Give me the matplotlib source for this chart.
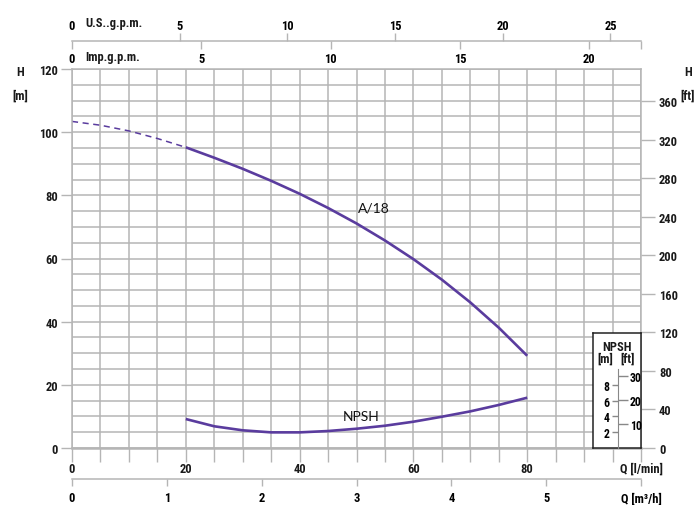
import matplotlib
matplotlib.use("Agg")
import matplotlib.pyplot as plt
from matplotlib import font_manager

# data
q_dash = [0, 5, 10, 15, 20]                       # l/min, dashed part of the H curve
h_dash = [103.4, 102.2, 100.4, 98.0, 95.2]        # m
q_head = [20, 25, 30, 35, 40, 45, 50, 55, 60, 65, 70, 75, 80]
h_head = [95.2, 91.9, 88.4, 84.6, 80.5, 76.0, 71.1, 65.7, 59.8, 53.3, 46.1, 38.1, 29.2]
q_npsh = [20, 25, 30, 35, 40, 45, 50, 55, 60, 65, 70, 75, 80]
npsh_m = [3.67, 2.75, 2.24, 1.98, 1.98, 2.15, 2.44, 2.82, 3.33, 3.96, 4.64, 5.45, 6.37]

x_labels = ["0", "20", "40", "60", "80"]
h_ticks_m = [0, 20, 40, 60, 80, 100, 120]
h_ticks_ft = [0, 40, 80, 120, 160, 200, 240, 280, 320, 360]
us_gpm = [0, 5, 10, 15, 20, 25]
imp_gpm = [0, 5, 10, 15, 20]
m3h = [0, 1, 2, 3, 4, 5]
npsh_ticks_m = [2, 4, 6, 8]
npsh_ticks_ft = [10, 20, 30]

# unit conversions
LPM_PER_USGPM = 3.785
LPM_PER_IMPGPM = 4.546
LPM_PER_M3H = 1000 / 60
M_PER_FT = 0.3048
NPSH_SCALE = 2.5   # 1 m of NPSH drawn as 2.5 m on the H scale

curve_col = "#5a3c9e"
grid_col = "#b5b5b5"
txt_col = "#1a1a1a"

# pick a narrow face for the labels if one is installed
fonts = font_manager.fontManager.ttflist
names = {f.name for f in fonts}
cond = None
for n in ["Roboto Condensed", "Liberation Sans Narrow", "Open Sans Condensed", "DejaVu Sans Condensed"]:
    if n in names:
        cond = n
        break
stretch = "normal"
if cond is None:
    cond = "DejaVu Sans"
    if any(f.name == "DejaVu Sans" and str(f.stretch) == "condensed" for f in fonts):
        stretch = "condensed"
plt.rcParams["font.family"] = [cond, "DejaVu Sans"]
plt.rcParams["font.stretch"] = stretch
plt.rcParams["font.weight"] = "bold"
plt.rcParams["font.size"] = 9
plt.rcParams["text.color"] = txt_col

W, H = 700, 506
fig = plt.figure(figsize=(W / 100, H / 100), dpi=100)


def fx(px):
    return px / W


def fy(py):
    return 1 - py / H


L, R, T, B = 72, 641, 70, 449

# main chart
ax = fig.add_axes([fx(L), fy(B), fx(R - L), (B - T) / H])
ax.set_xlim(0, 100)
ax.set_ylim(0, 120)
ax.set_xticks(range(0, 101, 5))
xl = [""] * 21
for i, s in enumerate(x_labels):
    xl[i * 4] = s
xl[20] = "Q [l/min]"
ax.set_xticklabels(xl)
ax.set_yticks(h_ticks_m)
ax.set_yticks(range(0, 121, 5), minor=True)
ax.tick_params(axis="x", direction="out", length=10, width=1, color=grid_col, pad=0, labelcolor=txt_col)
ax.tick_params(axis="y", which="major", direction="out", length=8, width=1, color=grid_col, pad=2,
               labelcolor=txt_col)
ax.tick_params(axis="y", which="minor", length=0)
ax.grid(True, which="both", color=grid_col, lw=1.1)
for s in ax.spines.values():
    s.set_color(grid_col)
    s.set_linewidth(1.1)
ax.spines["bottom"].set_linewidth(1.8)
ax.set_axisbelow(True)

ax.plot(q_dash, h_dash, color=curve_col, lw=1.1, ls=(0, (4, 3)))
ax.plot(q_head, h_head, color=curve_col, lw=1.9, solid_capstyle="butt")
ax.plot(q_npsh, [v * NPSH_SCALE for v in npsh_m], color=curve_col, lw=1.9, solid_capstyle="butt")
ax.text(50.3, 76.3, "A/18", family=["Lato", "DejaVu Sans"], stretch="normal", weight="normal",
        fontsize=10, va="center", ha="left", color="#111111")
ax.text(47.6, 10.2, "NPSH", family=["Lato", "DejaVu Sans"], stretch="normal", weight="normal",
        fontsize=10, va="center", ha="left", color="#111111")

# right axis in feet
ax_ft = ax.twinx()
ax_ft.set_ylim(0, 120 / M_PER_FT)
ax_ft.set_yticks(h_ticks_ft)
ax_ft.tick_params(axis="y", direction="out", length=10, width=1, color=grid_col, pad=3, labelcolor=txt_col)
for s in ax_ft.spines.values():
    s.set_visible(False)

# top scale: US gpm above, Imp gpm below
ax_top = fig.add_axes([fx(L), fy(42), fx(R - L), 1e-4])
ax_top.set_xlim(0, 100)
ax_top.set_yticks([])
for k in ("left", "right", "top"):
    ax_top.spines[k].set_visible(False)
ax_top.spines["bottom"].set_color(grid_col)
ax_top.spines["bottom"].set_linewidth(1.1)
ax_top.set_xticks([v * LPM_PER_IMPGPM for v in imp_gpm])
ax_top.set_xticklabels([str(v) for v in imp_gpm])
ax_top.set_xticks([100], minor=True)
ax_top.tick_params(axis="x", which="both", direction="out", length=6, width=1, color=grid_col, pad=2)
ax_us = ax_top.twiny()
ax_us.set_xlim(0, 100)
ax_us.set_xticks([v * LPM_PER_USGPM for v in us_gpm])
ax_us.set_xticklabels([str(v) for v in us_gpm])
ax_us.tick_params(axis="x", direction="out", length=6, width=1, color=grid_col, pad=0.5)
ax_us.xaxis.get_major_ticks()[0].tick2line.set_visible(False)
for s in ax_us.spines.values():
    s.set_visible(False)
fig.text(fx(85), fy(23), "U.S..g.p.m.", va="center", ha="left")
fig.text(fx(85), fy(58), "Imp.g.p.m.", va="center", ha="left")

# bottom scale in m3/h
ax_bot = fig.add_axes([fx(L), fy(480), fx(R - L), 1e-4])
ax_bot.set_xlim(0, 100)
ax_bot.set_yticks([])
for k in ("left", "right", "top"):
    ax_bot.spines[k].set_visible(False)
ax_bot.spines["bottom"].set_color(grid_col)
ax_bot.spines["bottom"].set_linewidth(1.1)
ax_bot.set_xticks([v * LPM_PER_M3H for v in m3h] + [100])
ax_bot.set_xticklabels([str(v) for v in m3h] + ["Q [m³/h]"])
ax_bot.tick_params(axis="x", direction="out", length=5, width=1, color=grid_col, pad=4)

# axis titles
fig.text(fx(20), fy(73), "H", ha="center", va="center")
fig.text(fx(20), fy(96), "[m]", ha="center", va="center")
fig.text(fx(688), fy(73), "H", ha="center", va="center")
fig.text(fx(688), fy(96), "[ft]", ha="center", va="center")

# NPSH scale box
box = fig.add_axes([fx(593), fy(B), fx(R - 593), (B - 334) / H])
box.set_xticks([])
box.set_yticks([])
box.set_facecolor("white")
for s in box.spines.values():
    s.set_color("#222222")
    s.set_linewidth(1.1)
box.text(0.5, 0.88, "NPSH", transform=box.transAxes, ha="center", va="center")
box.text(0.25, 0.78, "[m]", transform=box.transAxes, ha="center", va="center")
box.text(0.72, 0.78, "[ft]", transform=box.transAxes, ha="center", va="center")

ax_n = fig.add_axes([fx(617.5), fy(B), 1e-4, (B - T) / H])
ax_n.set_ylim(0, 120 / NPSH_SCALE)
ax_n.patch.set_visible(False)
ax_n.set_xticks([])
for k in ("right", "top", "bottom"):
    ax_n.spines[k].set_visible(False)
ax_n.spines["left"].set_bounds(0, 10)
ax_n.spines["left"].set_color("#888888")
ax_n.set_yticks(npsh_ticks_m)
ax_n.tick_params(axis="y", direction="out", length=4, width=1, color="#888888", pad=2, labelsize=8.5)
ax_nft = ax_n.twinx()
ax_nft.set_ylim(0, 120 / NPSH_SCALE / M_PER_FT)
ax_nft.patch.set_visible(False)
for s in ax_nft.spines.values():
    s.set_visible(False)
ax_nft.set_yticks(npsh_ticks_ft)
ax_nft.tick_params(axis="y", direction="out", length=7, width=1, color="#888888", pad=2, labelsize=8.5)

fig.savefig("out.png", dpi=100)
